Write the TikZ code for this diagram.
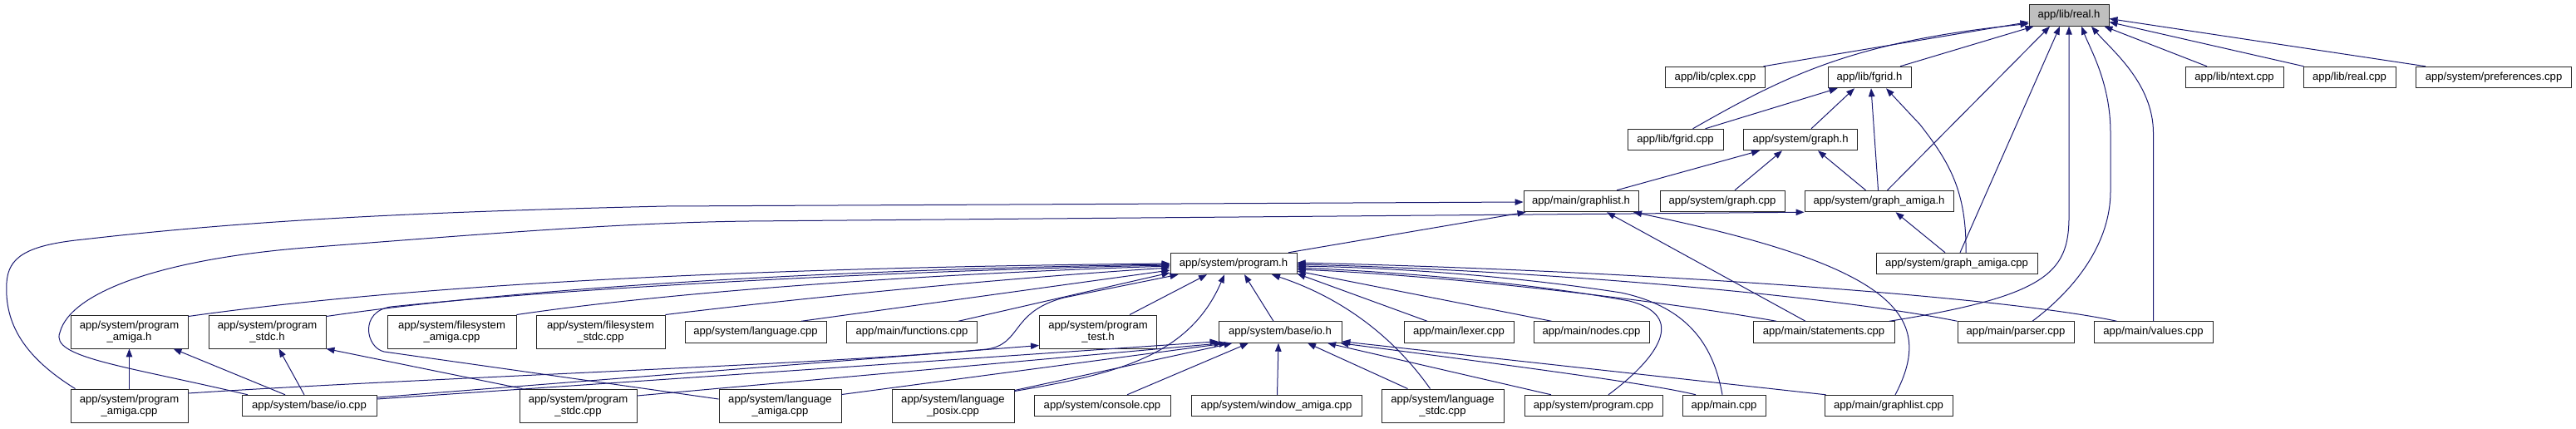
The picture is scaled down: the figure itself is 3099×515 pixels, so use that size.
\documentclass[tikz,border=0pt]{standalone}
\usepackage{fontspec}
\setmainfont{Liberation Sans}
\usetikzlibrary{arrows.meta}
\definecolor{edgeblue}{HTML}{191970}
\definecolor{rootgray}{HTML}{BFBFBF}
\begin{document}
\begin{tikzpicture}[x=1pt,y=-1pt,
  box/.style={draw=black!85, line width=0.95pt, fill=white, inner sep=0pt,
    minimum height=25.5pt, align=center, font=\fontsize{13.1}{14.3}\selectfont},
  tall/.style={minimum height=40pt},
  dep/.style={draw=edgeblue, line width=1pt, -{Triangle[length=10pt,width=7.5pt]}}]
\useasboundingbox (0,0) rectangle (3099,515);
% row 1
\node[box, fill=rootgray, minimum width=96pt] (R) at (2489,18.5) {app/lib/real.h};
% row 2
\node[box, minimum width=120pt] (cplex) at (2063.5,93) {app/lib/cplex.cpp};
\node[box, minimum width=100pt] (fgridh) at (2249,93) {app/lib/fgrid.h};
\node[box, minimum width=118pt] (ntext) at (2688,93) {app/lib/ntext.cpp};
\node[box, minimum width=111pt] (realcpp) at (2826.5,93) {app/lib/real.cpp};
\node[box, minimum width=187pt] (prefs) at (3000,93) {app/system/preferences.cpp};
% row 3
\node[box, minimum width=115pt] (fgridcpp) at (2015.5,168) {app/lib/fgrid.cpp};
\node[box, minimum width=137pt] (graphh) at (2166,168) {app/system/graph.h};
% row 4
\node[box, minimum width=138pt] (graphlisth) at (1902,242) {app/main/graphlist.h};
\node[box, minimum width=150pt] (graphcpp) at (2072,242) {app/system/graph.cpp};
\node[box, minimum width=179pt] (gah) at (2260.5,242) {app/system/graph\_amiga.h};
% row 5
\node[box, minimum width=152pt] (programh) at (1484,317) {app/system/program.h};
\node[box, minimum width=194pt] (gacpp) at (2354,317) {app/system/graph\_amiga.cpp};
% row 6
\node[box, tall, minimum width=141pt] (pah) at (155.5,399) {app/system/program\\\_amiga.h};
\node[box, tall, minimum width=141pt] (psh) at (321.5,399) {app/system/program\\\_stdc.h};
\node[box, tall, minimum width=155pt] (fsa) at (543.5,399) {app/system/filesystem\\\_amiga.cpp};
\node[box, tall, minimum width=155pt] (fss) at (722.5,399) {app/system/filesystem\\\_stdc.cpp};
\node[box, minimum width=170pt] (lang) at (909,399.5) {app/system/language.cpp};
\node[box, minimum width=157pt] (funcs) at (1097,399.5) {app/main/functions.cpp};
\node[box, tall, minimum width=141pt] (pth) at (1321,399) {app/system/program\\\_test.h};
\node[box, minimum width=148pt] (ioh) at (1540,399.5) {app/system/base/io.h};
\node[box, minimum width=132pt] (lexer) at (1755,399.5) {app/main/lexer.cpp};
\node[box, minimum width=139pt] (nodes) at (1914.5,399.5) {app/main/nodes.cpp};
\node[box, minimum width=170pt] (statements) at (2194,399.5) {app/main/statements.cpp};
\node[box, minimum width=140pt] (parser) at (2425,399.5) {app/main/parser.cpp};
\node[box, minimum width=143pt] (values) at (2590.5,399.5) {app/main/values.cpp};
% row 7
\node[box, tall, minimum width=141pt] (pacpp) at (155.5,488) {app/system/program\\\_amiga.cpp};
\node[box, minimum width=162pt] (iocpp) at (372,488) {app/system/base/io.cpp};
\node[box, tall, minimum width=141pt] (pscpp) at (695.5,488) {app/system/program\\\_stdc.cpp};
\node[box, tall, minimum width=147pt] (langamiga) at (938.5,488) {app/system/language\\\_amiga.cpp};
\node[box, tall, minimum width=147pt] (langposix) at (1146.5,488) {app/system/language\\\_posix.cpp};
\node[box, minimum width=164pt] (console) at (1326,488) {app/system/console.cpp};
\node[box, minimum width=205pt] (window) at (1535.5,488) {app/system/window\_amiga.cpp};
\node[box, tall, minimum width=147pt] (langstdc) at (1735.5,488) {app/system/language\\\_stdc.cpp};
\node[box, minimum width=166pt] (progcpp) at (1917,488) {app/system/program.cpp};
\node[box, minimum width=100pt] (maincpp) at (2074,488) {app/main.cpp};
\node[box, minimum width=154pt] (graphlistcpp) at (2272,488) {app/main/graphlist.cpp};

% ---- into real.h
\draw[dep] ([xshift=58pt]cplex.north) -- ([yshift=-8pt]R.west);
\draw[dep] ([xshift=21pt]fgridcpp.north) .. controls (2150,90) and (2230,50) .. ([yshift=-10pt]R.west);
\draw[dep] ([xshift=37pt]fgridh.north) -- ([xshift=6pt]R.south west);
\draw[dep] ([xshift=10pt]gah.north) -- ([xshift=-23pt]R.south);
\draw[dep] ([xshift=4pt]gacpp.north) -- ([xshift=-11pt]R.south);
\draw[dep] ([xshift=79pt]statements.north) .. controls (2470,355) and (2490,325) .. (2489,255) -- (R.south);
\draw[dep] ([xshift=20pt]parser.north) .. controls (2500,345) and (2539,290) .. (2539,230) -- (2539,160) .. controls (2539,100) and (2515,60) .. ([xshift=15pt]R.south);
\draw[dep] (values.north) -- (2590.5,160) .. controls (2590.5,100) and (2540,60) .. ([xshift=27pt]R.south);
\draw[dep] ([xshift=-33pt]ntext.north) -- ([xshift=-6pt]R.south east);
\draw[dep] ([xshift=-55pt]realcpp.north) -- ([yshift=-8pt]R.east);
\draw[dep] ([xshift=-82pt]prefs.north) -- ([yshift=-4pt]R.east);
% ---- into fgrid.h
\draw[dep] ([xshift=36pt]fgridcpp.north) -- ([xshift=12pt]fgridh.south west);
\draw[dep] ([xshift=13pt]graphh.north) -- ([xshift=-18pt]fgridh.south);
\draw[dep] ([xshift=-1pt]gah.north) -- ([xshift=2pt]fgridh.south);
\draw[dep] ([xshift=11pt]gacpp.north) .. controls (2366,230) and (2345,195) .. (2310,150) -- ([xshift=20pt]fgridh.south);
% ---- into graph.h
\draw[dep] ([xshift=43pt]graphlisth.north) -- ([xshift=-49pt]graphh.south);
\draw[dep] ([xshift=15pt]graphcpp.north) -- ([xshift=-22pt]graphh.south);
\draw[dep] ([xshift=-16pt]gah.north) -- ([xshift=21pt]graphh.south);
% ---- into graph_amiga.h
\draw[dep] ([xshift=-14pt]gacpp.north) -- ([xshift=20pt]gah.south);
\draw[dep] ([xshift=-74pt]iocpp.north) .. controls (150,440) and (60,430) .. (72,400) .. controls (85,350) and (200,310) .. (380,297) .. controls (600,280) and (750,268) .. (900,266) -- (gah.south west);
% ---- into graphlist.h
\draw[dep] ([xshift=-65pt]pacpp.north) .. controls (30,430) and (5,390) .. (8,340) .. controls (10,310) and (30,295) .. (100,288) .. controls (300,265) and (500,255) .. (800,248) -- ([yshift=-1pt]graphlisth.west);
\draw[dep] ([xshift=66pt]programh.north) -- ([xshift=3pt]graphlisth.south west);
\draw[dep] ([xshift=-22pt]statements.north) -- ([xshift=31pt]graphlisth.south);
\draw[dep] ([xshift=8pt]graphlistcpp.north) .. controls (2330,380) and (2280,320) .. ([xshift=63pt]graphlisth.south);
% ---- into program_amiga.h, program_stdc.h, program_test.h
\draw[dep] (pacpp.north) -- (pah.south);
\draw[dep] ([xshift=-29pt]iocpp.north) -- ([xshift=53pt]pah.south);
\draw[dep] ([xshift=-6pt]iocpp.north) -- ([xshift=14pt]psh.south);
\draw[dep] ([xshift=-67pt]pscpp.north) -- (psh.south east);
\draw[dep] ([yshift=10pt]iocpp.east) -- ([yshift=4pt]pth.south west);
% ---- into base/io.h
\draw[dep] ([yshift=8pt]iocpp.east) -- ([yshift=2pt]ioh.south west);
\draw[dep] ([yshift=12pt]pscpp.east) -- ([xshift=5pt]ioh.south west);
\draw[dep] ([yshift=-7pt]langamiga.north east) -- ([xshift=11pt]ioh.south west);
\draw[dep] ([yshift=-2pt]langposix.north east) -- ([xshift=17pt]ioh.south west);
\draw[dep] ([xshift=30pt]console.north) -- ([xshift=-38pt]ioh.south);
\draw[dep] ([xshift=1pt]window.north) -- ([xshift=-2pt]ioh.south);
\draw[dep] ([xshift=-42pt]langstdc.north) -- ([xshift=33pt]ioh.south);
\draw[dep] ([xshift=-51pt]progcpp.north) -- ([xshift=57pt]ioh.south);
\draw[dep] ([xshift=-34pt]maincpp.north) .. controls (2000,465) and (1900,450) .. ([xshift=-2pt]ioh.south east);
\draw[dep] ([xshift=2pt]graphlistcpp.north west) -- ([yshift=2pt]ioh.south east);
% ---- into program.h, from the left
\draw[dep] ([yshift=-2pt]pah.north east) .. controls (500,342) and (900,322) .. (programh.west);
\draw[dep] ([yshift=-2pt]psh.north east) .. controls (600,350) and (950,325) .. ([yshift=-1pt]programh.west);
\draw[dep] ([yshift=8pt]langamiga.west) -- (462,423) .. controls (440,418) and (432,375) .. (470,369) .. controls (700,345) and (1100,325) .. ([yshift=-2pt]programh.west);
\draw[dep] (fsa.north east) .. controls (800,352) and (1100,330) .. ([yshift=-3pt]programh.west);
\draw[dep] (fss.north east) .. controls (950,360) and (1200,335) .. ([yshift=-5pt]programh.west);
\draw[dep] ([xshift=55pt]lang.north) -- ([yshift=-8pt]programh.west);
\draw[dep] ([xshift=56pt]funcs.north) -- ([yshift=-11pt]programh.west);
\draw[dep] ([yshift=15pt]pacpp.east) .. controls (500,455) and (1000,438) .. (1187,420) .. controls (1230,414) and (1215,375) .. (1280,358) -- ([xshift=10pt]programh.south west);
% ---- into program.h, from below
\draw[dep] ([xshift=38pt]pth.north) -- ([xshift=-32pt]programh.south);
\draw[dep] ([yshift=-3pt]langposix.north east) .. controls (1340,450) and (1430,430) .. ([xshift=-11pt]programh.south);
\draw[dep] ([xshift=-8pt]ioh.north) -- ([xshift=13pt]programh.south);
\draw[dep] ([xshift=-15pt]langstdc.north) .. controls (1680,410) and (1620,360) .. ([xshift=46pt]programh.south);
% ---- into program.h, from the right
\draw[dep] ([xshift=-38pt]lexer.north) -- ([yshift=1pt]programh.south east);
\draw[dep] ([xshift=-48pt]nodes.north) -- ([yshift=-9pt]programh.east);
\draw[dep] ([xshift=18pt]progcpp.north) .. controls (1995,430) and (2030,380) .. (1960,362) .. controls (1850,342) and (1700,328) .. ([yshift=-5pt]programh.east);
\draw[dep] ([xshift=-2pt]maincpp.north) .. controls (2062,420) and (2035,370) .. (1950,352) .. controls (1820,332) and (1680,322) .. ([yshift=-3pt]programh.east);
\draw[dep] ([xshift=-57pt]statements.north) .. controls (2000,362) and (1750,332) .. ([yshift=-7pt]programh.east);
\draw[dep] (parser.north west) .. controls (2200,355) and (1850,325) .. ([yshift=-1pt]programh.east);
\draw[dep] ([xshift=-44pt]values.north) .. controls (2400,355) and (1950,325) .. ([yshift=1pt]programh.east);
\end{tikzpicture}
\end{document}
